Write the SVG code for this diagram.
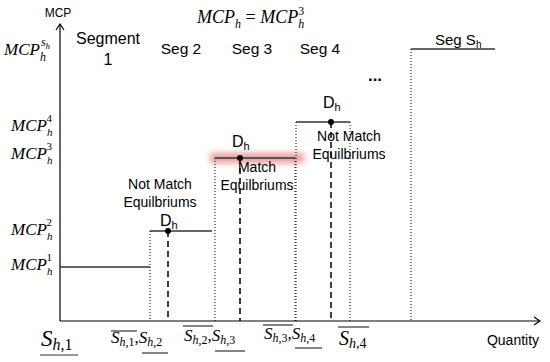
<svg xmlns="http://www.w3.org/2000/svg" width="550" height="362" viewBox="0 0 550 362">
<style>
.m{font-family:"Liberation Serif","DejaVu Serif",serif;font-style:italic;fill:#000}
.s{font-family:"Liberation Sans",Arial,sans-serif;fill:#000}
.n{font-style:normal}
.ax{stroke:#000;stroke-width:1.2;fill:none}
.step{stroke:#333;stroke-width:1.5;fill:none}
.dot{stroke:#000;stroke-width:1;stroke-dasharray:1 2;fill:none}
.dash{stroke:#000;stroke-width:1.5;stroke-dasharray:6 4;fill:none}
.ul{stroke:#333;stroke-width:1.2}
</style>
<defs>
<filter id="blur" x="-20%" y="-100%" width="140%" height="300%"><feGaussianBlur stdDeviation="3"/></filter>
</defs>
<rect width="550" height="362" fill="#fff"/>

<g id="axes">
<line class="ax" x1="60" y1="321" x2="60" y2="24"/>
<polyline class="ax" points="56,30 60,24 64,30"/>
<line class="ax" x1="60" y1="321" x2="540" y2="321"/>
<polyline class="ax" points="534,317 540,321 534,325"/>
<text class="s" x="58" y="17" font-size="12" text-anchor="middle">MCP</text>
<text class="s" x="513" y="345" font-size="14" text-anchor="middle">Quantity</text>
</g>

<g id="formula">
<text class="m" x="197" y="23" font-size="18">MCP<tspan font-size="12" dy="5">h</tspan><tspan class="n" dy="-5"> = </tspan>MCP<tspan font-size="12" dy="5">h</tspan><tspan class="n" font-size="12" dx="-6" dy="-13">3</tspan></text>
</g>

<g id="y-labels">
<text class="m" x="4" y="55" font-size="17">MCP<tspan font-size="12" dy="6">h</tspan><tspan font-size="12" dx="-5" dy="-15">s</tspan><tspan font-size="9" dy="3">h</tspan></text>
<text class="m" x="11" y="131" font-size="17">MCP<tspan font-size="11" dy="5">h</tspan><tspan class="n" font-size="11" dx="-6" dy="-14">4</tspan></text>
<text class="m" x="11" y="159" font-size="17">MCP<tspan font-size="11" dy="5">h</tspan><tspan class="n" font-size="11" dx="-6" dy="-14">3</tspan></text>
<text class="m" x="11" y="235" font-size="17">MCP<tspan font-size="11" dy="5">h</tspan><tspan class="n" font-size="11" dx="-6" dy="-14">2</tspan></text>
<text class="m" x="11" y="270" font-size="17">MCP<tspan font-size="11" dy="5">h</tspan><tspan class="n" font-size="11" dx="-6" dy="-14">1</tspan></text>
</g>

<g id="seg-labels">
<text class="s" x="108" y="44" font-size="16" text-anchor="middle">Segment</text>
<text class="s" x="108" y="65" font-size="16" text-anchor="middle">1</text>
<text class="s" x="181" y="54" font-size="15.5" text-anchor="middle">Seg 2</text>
<text class="s" x="252" y="54" font-size="15.5" text-anchor="middle">Seg 3</text>
<text class="s" x="320" y="54" font-size="15.5" text-anchor="middle">Seg 4</text>
<text class="s" x="435" y="45" font-size="15">Seg S<tspan font-size="10" dy="3">h</tspan></text>
<text class="s" x="375" y="81" font-size="17" font-weight="bold" text-anchor="middle">...</text>
</g>

<g id="segment1">
<line class="step" x1="60" y1="267" x2="150" y2="267"/>
</g>

<g id="segment2">
<line class="step" x1="150" y1="231" x2="212" y2="231"/>
<line class="dot" x1="150" y1="231" x2="150" y2="321"/>
<line class="dash" x1="168" y1="231" x2="168" y2="321"/>
<circle cx="168" cy="231" r="3" fill="#000"/>
<text class="s" x="160" y="226" font-size="16">D<tspan font-size="11" dy="3">h</tspan></text>
<text class="s" x="160" y="189" font-size="14" text-anchor="middle">Not Match</text>
<text class="s" x="160" y="207" font-size="14" text-anchor="middle">Equilbriums</text>
</g>

<g id="segment3">
<rect x="210" y="153" width="94" height="10" fill="#e07070" opacity="0.7" filter="url(#blur)"/>
<line class="step" x1="215" y1="158" x2="295" y2="158"/>
<line class="dot" x1="215" y1="158" x2="215" y2="321"/>
<line class="dot" x1="295" y1="158" x2="295" y2="321"/>
<line class="dash" x1="240" y1="158" x2="240" y2="321"/>
<circle cx="240" cy="158" r="3" fill="#000"/>
<text class="s" x="232" y="147" font-size="16">D<tspan font-size="11" dy="3">h</tspan></text>
<text class="s" x="257" y="172" font-size="14" text-anchor="middle">Match</text>
<text class="s" x="257" y="190" font-size="14" text-anchor="middle">Equilbriums</text>
</g>

<g id="segment4">
<line class="step" x1="296" y1="122" x2="350" y2="122"/>
<line class="dot" x1="296" y1="122" x2="296" y2="321"/>
<line class="dot" x1="350" y1="122" x2="350" y2="321"/>
<line class="dash" x1="331" y1="122" x2="331" y2="321"/>
<circle cx="331" cy="122" r="3" fill="#000"/>
<text class="s" x="323" y="108" font-size="16">D<tspan font-size="11" dy="3">h</tspan></text>
<text class="s" x="349" y="141" font-size="14" text-anchor="middle">Not Match</text>
<text class="s" x="349" y="159" font-size="14" text-anchor="middle">Equilbriums</text>
</g>

<g id="segmentSh">
<line class="step" x1="411" y1="49" x2="495" y2="49"/>
<line class="dot" x1="411" y1="49" x2="411" y2="321"/>
</g>

<g id="x-labels">
<text class="m" x="41" y="346" font-size="23">S<tspan font-size="16" dy="4">h<tspan class="n">,1</tspan></tspan></text>
<line class="ul" x1="40" y1="355" x2="78" y2="355"/>

<text class="m" x="111" y="343" font-size="17">S<tspan font-size="12" dy="3">h<tspan class="n">,1</tspan></tspan><tspan class="n" dy="-3">,</tspan>S<tspan font-size="12" dy="3">h<tspan class="n">,2</tspan></tspan></text>
<line class="ul" x1="111" y1="331" x2="137" y2="331"/>
<line class="ul" x1="142" y1="353" x2="168" y2="353"/>

<text class="m" x="184" y="341" font-size="17">S<tspan font-size="12" dy="3">h<tspan class="n">,2</tspan></tspan><tspan class="n" dy="-3">,</tspan>S<tspan font-size="12" dy="3">h<tspan class="n">,3</tspan></tspan></text>
<line class="ul" x1="183" y1="326" x2="213" y2="326"/>
<line class="ul" x1="215" y1="351" x2="245" y2="351"/>

<text class="m" x="264" y="339" font-size="17">S<tspan font-size="12" dy="3">h<tspan class="n">,3</tspan></tspan><tspan class="n" dy="-3">,</tspan>S<tspan font-size="12" dy="3">h<tspan class="n">,4</tspan></tspan></text>
<line class="ul" x1="263" y1="325" x2="293" y2="325"/>
<line class="ul" x1="295" y1="348" x2="322" y2="348"/>

<text class="m" x="339" y="345" font-size="20">S<tspan font-size="14" dy="3">h<tspan class="n">,4</tspan></tspan></text>
<line class="ul" x1="338" y1="327" x2="369" y2="327"/>
</g>
</svg>
